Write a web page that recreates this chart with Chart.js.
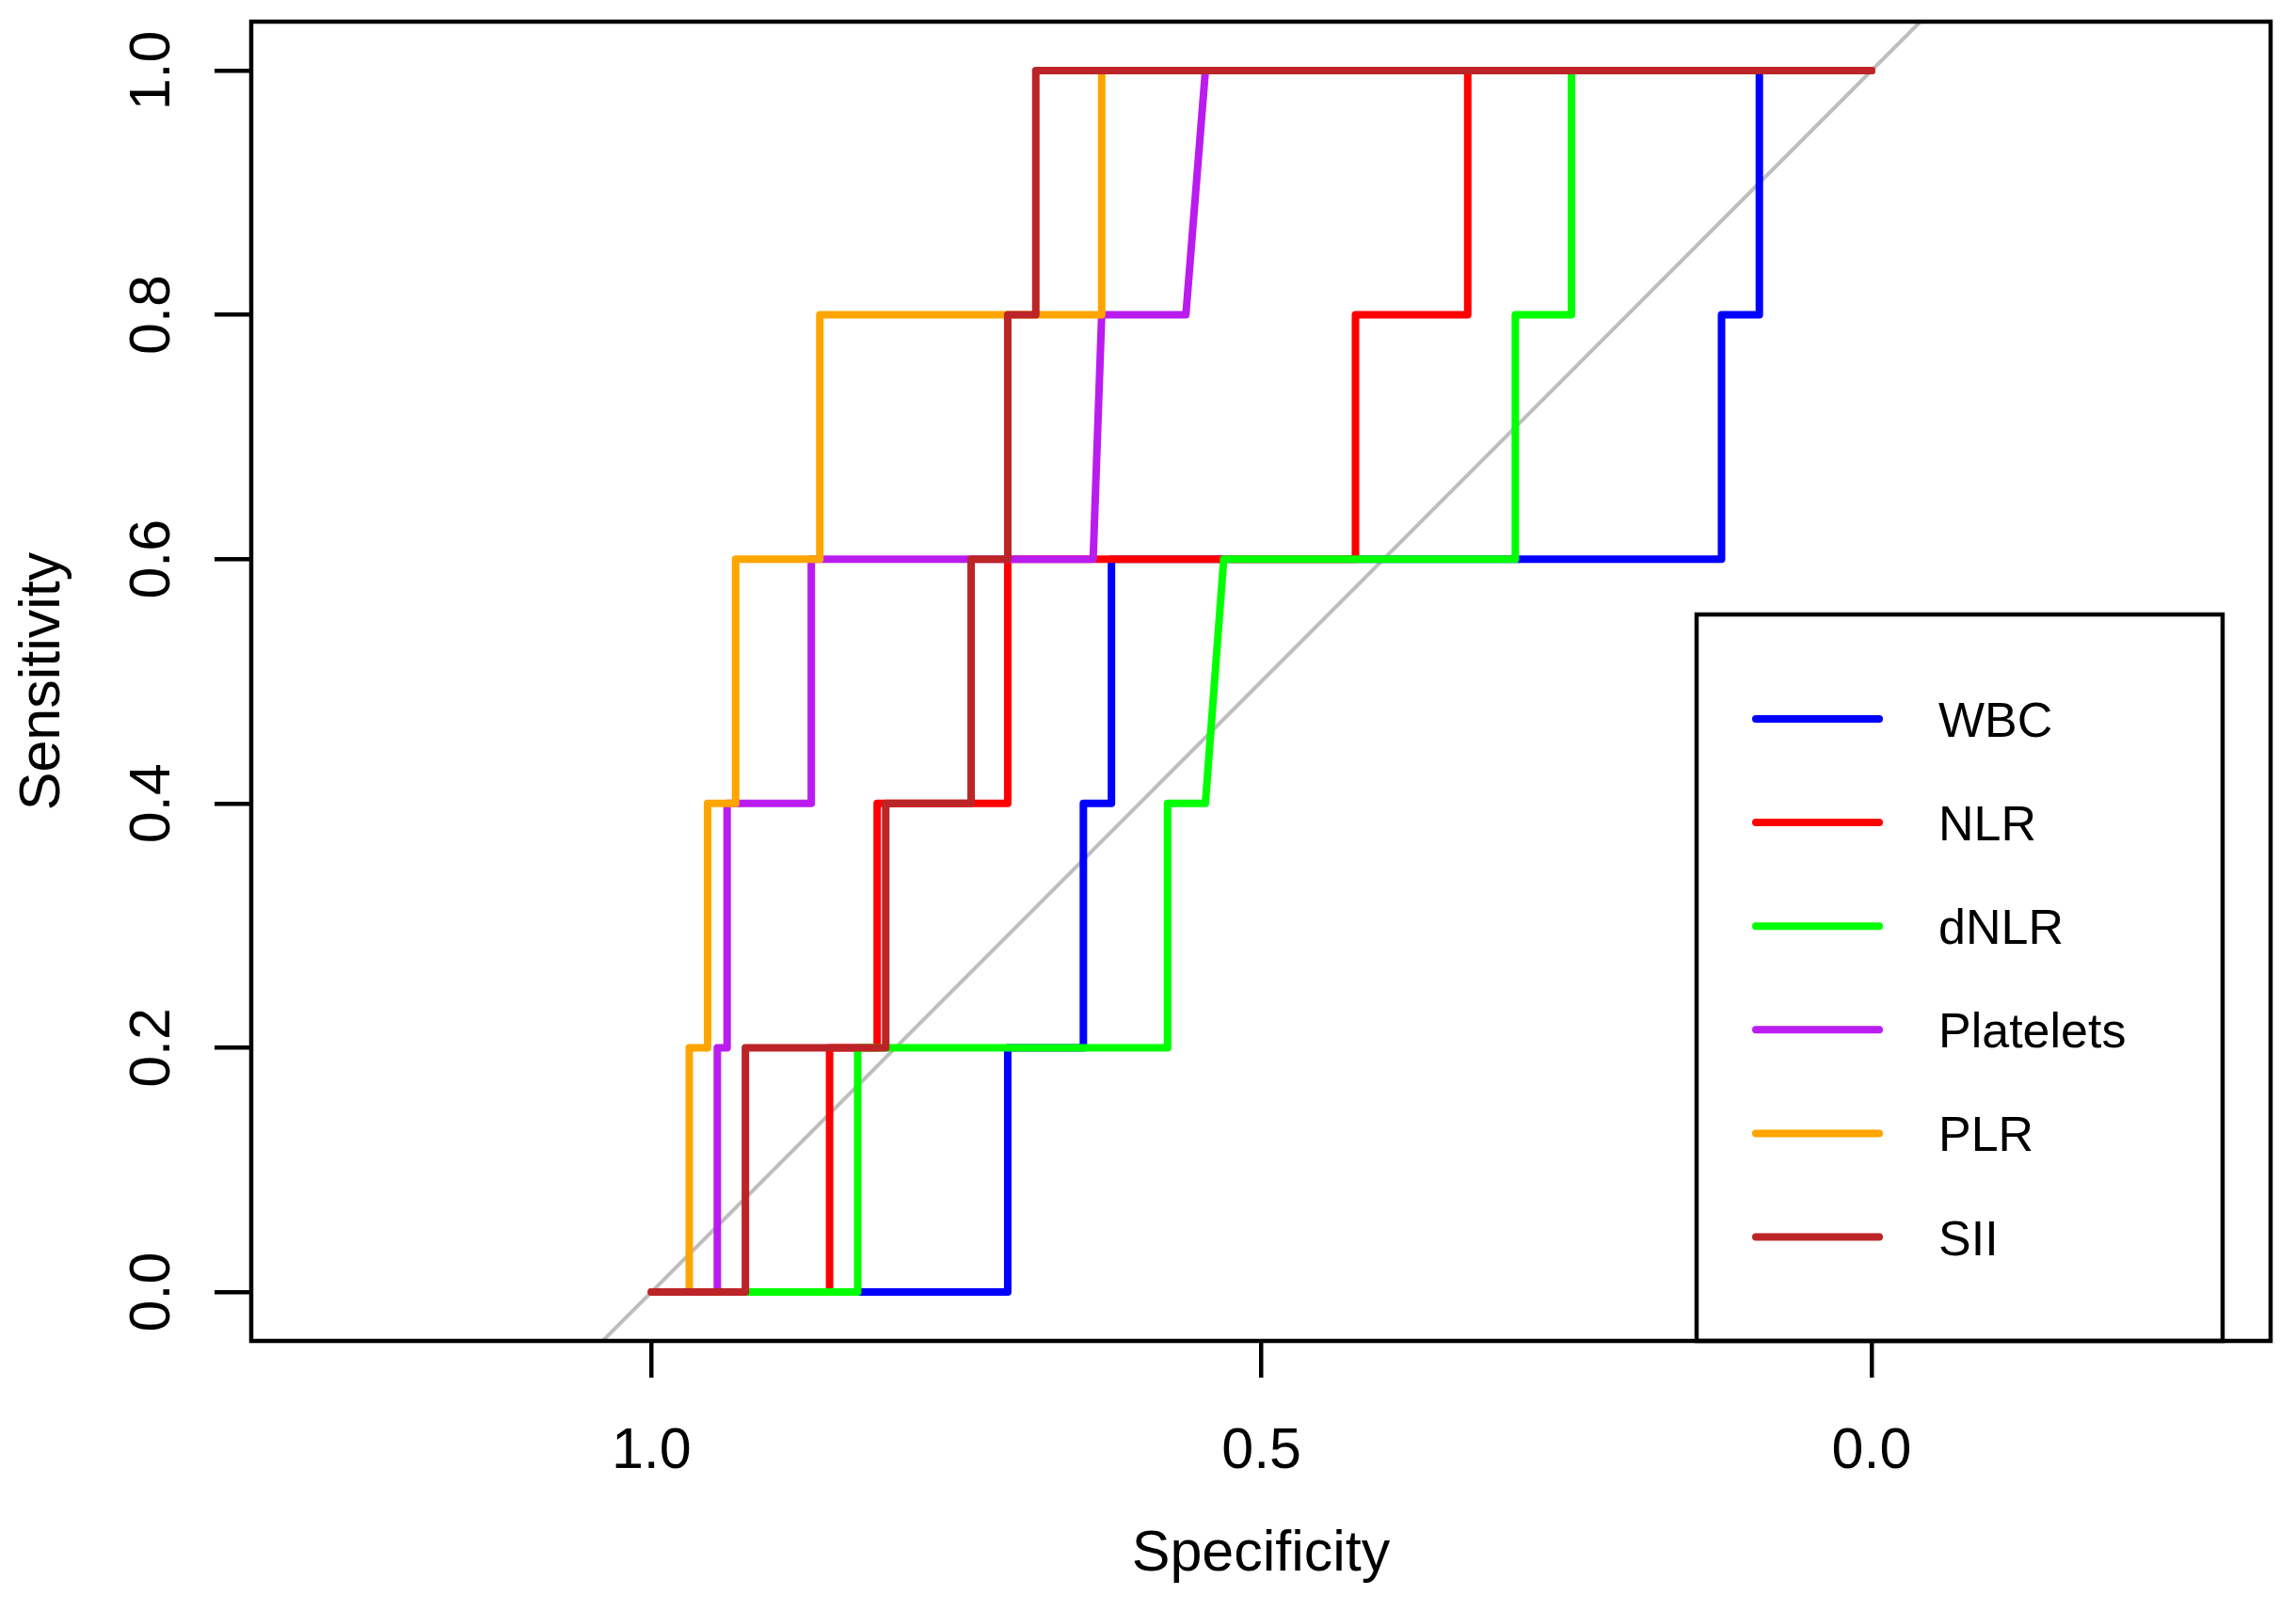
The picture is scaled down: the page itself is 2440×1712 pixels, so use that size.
<!DOCTYPE html>
<html>
<head>
<meta charset="utf-8">
<script src="https://cdn.jsdelivr.net/npm/chart.js@4.4.1/dist/chart.umd.min.js"></script>
<style>
  html, body { margin: 0; padding: 0; background: #fff; overflow: hidden; }
  canvas { display: block; }
</style>
</head>
<body>
<canvas id="roc" width="2440" height="1712"></canvas>
<script>
//-----------------------------------------------------
// ROC curves of blood markers (pROC style plot)
//-----------------------------------------------------

const seriesNames = ['WBC', 'NLR', 'dNLR', 'Platelets', 'PLR', 'SII'];
const seriesColors = ['#0000FF', '#FF0000', '#00FF00', '#BA1CF0', '#FFA500', '#BC2428'];

// specificity / sensitivity pairs, walked from (1,0) to (0,1)
const wbcSpec = [1, 0.708, 0.708, 0.646, 0.646, 0.623, 0.623, 0.123, 0.123, 0.092, 0.092, 0];
const wbcSens = [0, 0, 0.2, 0.2, 0.4, 0.4, 0.6, 0.6, 0.8, 0.8, 1, 1];

const nlrSpec = [1, 0.854, 0.854, 0.815, 0.815, 0.708, 0.708, 0.423, 0.423, 0.331, 0.331, 0];
const nlrSens = [0, 0, 0.2, 0.2, 0.4, 0.4, 0.6, 0.6, 0.8, 0.8, 1, 1];

const dnlrSpec = [1, 0.831, 0.831, 0.577, 0.577, 0.546, 0.531, 0.292, 0.292, 0.246, 0.246, 0];
const dnlrSens = [0, 0, 0.2, 0.2, 0.4, 0.4, 0.6, 0.6, 0.8, 0.8, 1, 1];

const pltSpec = [1, 0.946, 0.946, 0.938, 0.938, 0.869, 0.869, 0.638, 0.631, 0.562, 0.546, 0];
const pltSens = [0, 0, 0.2, 0.2, 0.4, 0.4, 0.6, 0.6, 0.8, 0.8, 1, 1];

const plrSpec = [1, 0.969, 0.969, 0.954, 0.954, 0.931, 0.931, 0.862, 0.862, 0.631, 0.631, 0];
const plrSens = [0, 0, 0.2, 0.2, 0.4, 0.4, 0.6, 0.6, 0.8, 0.8, 1, 1];

const siiSpec = [1, 0.923, 0.923, 0.808, 0.808, 0.738, 0.738, 0.708, 0.708, 0.685, 0.685, 0];
const siiSens = [0, 0, 0.2, 0.2, 0.4, 0.4, 0.6, 0.6, 0.8, 0.8, 1, 1];

const specLists = [wbcSpec, nlrSpec, dnlrSpec, pltSpec, plrSpec, siiSpec];
const sensLists = [wbcSens, nlrSens, dnlrSens, pltSens, plrSens, siiSens];

// axes
const xMin = -0.327, xMax = 1.328;
const yMin = -0.04, yMax = 1.04;
const xTicks = [1.0, 0.5, 0.0];
const yTicks = [0.0, 0.2, 0.4, 0.6, 0.8, 1.0];

// chance line across the whole plot region
const diagSpec = [1.04, -0.04];
const diagSens = [-0.04, 1.04];

const FONT = '"Liberation Sans", Arial, sans-serif';

function toPoints(xs, ys) {
    return xs.map((v, i) => ({ x: v, y: ys[i] }));
}

const datasets = seriesNames.map((name, i) => ({
    label: name,
    data: toPoints(specLists[i], sensLists[i]),
    borderColor: seriesColors[i],
    borderWidth: 8,
    borderCapStyle: 'round',
    borderJoinStyle: 'round',
    pointRadius: 0,
    tension: 0,
    fill: false,
    order: seriesNames.length - i   // SII drawn last, on top
}));

datasets.push({
    label: 'diagonal',
    data: toPoints(diagSpec, diagSens),
    borderColor: '#BEBEBE',
    borderWidth: 4,
    pointRadius: 0,
    fill: false,
    order: 99
});

// box, tick labels, titles and legend drawn the R way
const rDecor = {
    id: 'rDecor',
    afterDatasetsDraw(chart) {
        const { ctx, chartArea: a, scales } = chart;
        const xs = scales.x, ys = scales.y;
        ctx.save();
        ctx.strokeStyle = '#000';
        ctx.lineWidth = 4.5;
        ctx.strokeRect(a.left, a.top, a.right - a.left, a.bottom - a.top);

        // legend
        const lx0 = 1803, lx1 = 2362, ly0 = 653;
        ctx.strokeRect(lx0, ly0, lx1 - lx0, a.bottom - ly0);
        ctx.font = '52px ' + FONT;
        ctx.textAlign = 'left';
        ctx.textBaseline = 'alphabetic';
        ctx.lineCap = 'round';
        seriesNames.forEach((name, i) => {
            const yy = 764 + i * 110.1;
            ctx.strokeStyle = seriesColors[i];
            ctx.lineWidth = 8;
            ctx.beginPath();
            ctx.moveTo(1866, yy);
            ctx.lineTo(1997, yy);
            ctx.stroke();
            ctx.fillStyle = '#000';
            ctx.fillText(name, 2060, yy + 19);
        });

        // tick labels
        ctx.fillStyle = '#000';
        ctx.font = '61px ' + FONT;
        ctx.textAlign = 'center';
        xTicks.forEach(v => {
            ctx.fillText(v.toFixed(1), xs.getPixelForValue(v), a.bottom + 135);
        });
        yTicks.forEach(v => {
            ctx.save();
            ctx.translate(a.left - 87, ys.getPixelForValue(v));
            ctx.rotate(-Math.PI / 2);
            ctx.fillText(v.toFixed(1), 0, 0);
            ctx.restore();
        });

        // axis titles
        ctx.fillText('Specificity', (a.left + a.right) / 2, a.bottom + 244);
        ctx.save();
        ctx.translate(a.left - 204, (a.top + a.bottom) / 2);
        ctx.rotate(-Math.PI / 2);
        ctx.fillText('Sensitivity', 0, 0);
        ctx.restore();
        ctx.restore();
    }
};

const tickGrid = {
    display: true,
    drawOnChartArea: false,
    drawTicks: true,
    tickLength: 39,
    color: '#000',
    lineWidth: 4.5
};

new Chart(document.getElementById('roc').getContext('2d'), {
    type: 'line',
    data: { datasets: datasets },
    options: {
        responsive: false,
        devicePixelRatio: 1,
        animation: false,
        parsing: false,
        layout: { padding: { left: 0, top: 23, right: 27, bottom: 0 } },
        plugins: {
            legend: { display: false },
            tooltip: { enabled: false }
        },
        scales: {
            x: {
                type: 'linear',
                reverse: true,
                min: xMin,
                max: xMax,
                grid: tickGrid,
                border: { display: false },
                ticks: { display: false },
                afterBuildTicks: s => { s.ticks = xTicks.map(v => ({ value: v })); },
                afterFit: s => { s.height = 287; }
            },
            y: {
                type: 'linear',
                min: yMin,
                max: yMax,
                grid: tickGrid,
                border: { display: false },
                ticks: { display: false },
                afterBuildTicks: s => { s.ticks = yTicks.map(v => ({ value: v })); },
                afterFit: s => { s.width = 267; }
            }
        }
    },
    plugins: [rDecor]
});
</script>
</body>
</html>
